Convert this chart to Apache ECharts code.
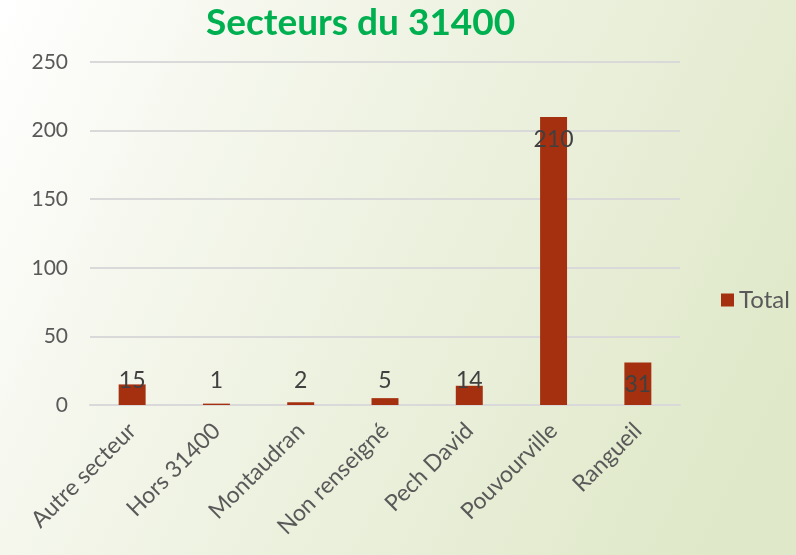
<!DOCTYPE html>
<html>
<head>
<meta charset="utf-8">
<script src="https://cdn.jsdelivr.net/npm/echarts@6/dist/echarts.min.js"></script>
<style>
  html, body { margin: 0; padding: 0; }
  #chart { width: 796px; height: 555px; }
</style>
</head>
<body>
<div id="chart"></div>
<script>
// data
var categories = ['Autre secteur', 'Hors 31400', 'Montaudran', 'Non renseigné', 'Pech David', 'Pouvourville', 'Rangueil'];
var totals = [15, 1, 2, 5, 14, 210, 31];
var yTicks = [0, 50, 100, 150, 200, 250];

var font = 'Lato, "Open Sans", sans-serif';
var textColor = '#595959';
var barColor = '#a5300f';

// Excel puts short-bar labels at a fixed height above the axis
var barData = totals.map(function (v) {
  return {
    value: v,
    label: v < 20
      ? { position: 'insideBottom', distance: 13 }
      : { position: 'insideTop', distance: 11 }
  };
});

var myChart = echarts.init(document.getElementById('chart'));
myChart.setOption({
  backgroundColor: {
    type: 'linear', x: 0, y: 0, x2: 1, y2: 0.7,
    colorStops: [
      { offset: 0, color: '#ffffff' },
      { offset: 0.35, color: '#f2f5e8' },
      { offset: 1, color: '#dfe8c8' }
    ]
  },
  title: {
    text: 'Secteurs du 31400',
    left: 201,
    top: 0,
    textStyle: { color: '#00b050', fontSize: 37, fontWeight: 'bold', fontFamily: font }
  },
  legend: {
    orient: 'vertical',
    left: 716,
    top: 283,
    itemWidth: 13,
    itemHeight: 13,
    itemGap: 6,
    icon: 'rect',
    textStyle: { color: textColor, fontSize: 24, fontFamily: font }
  },
  grid: { left: 90, right: 116, top: 62, bottom: 150 },
  xAxis: {
    type: 'category',
    data: categories,
    axisTick: { show: false },
    axisLine: { lineStyle: { color: '#d9d9d9', width: 2 } },
    axisLabel: {
      rotate: 45,
      interval: 0,
      margin: 22,
      color: textColor,
      fontSize: 23,
      fontFamily: font
    }
  },
  yAxis: {
    type: 'value',
    min: yTicks[0],
    max: yTicks[yTicks.length - 1],
    interval: 50,
    axisLine: { show: false },
    axisTick: { show: false },
    splitLine: { lineStyle: { color: '#d9d9d9', width: 2 } },
    axisLabel: { color: textColor, fontSize: 21, fontFamily: font, margin: 22 }
  },
  series: [
    {
      name: 'Total',
      type: 'bar',
      barWidth: '32%',
      itemStyle: { color: barColor },
      label: {
        show: true,
        color: '#404040',
        fontSize: 23,
        fontFamily: font
      },
      data: barData
    }
  ]
});
</script>
</body>
</html>
